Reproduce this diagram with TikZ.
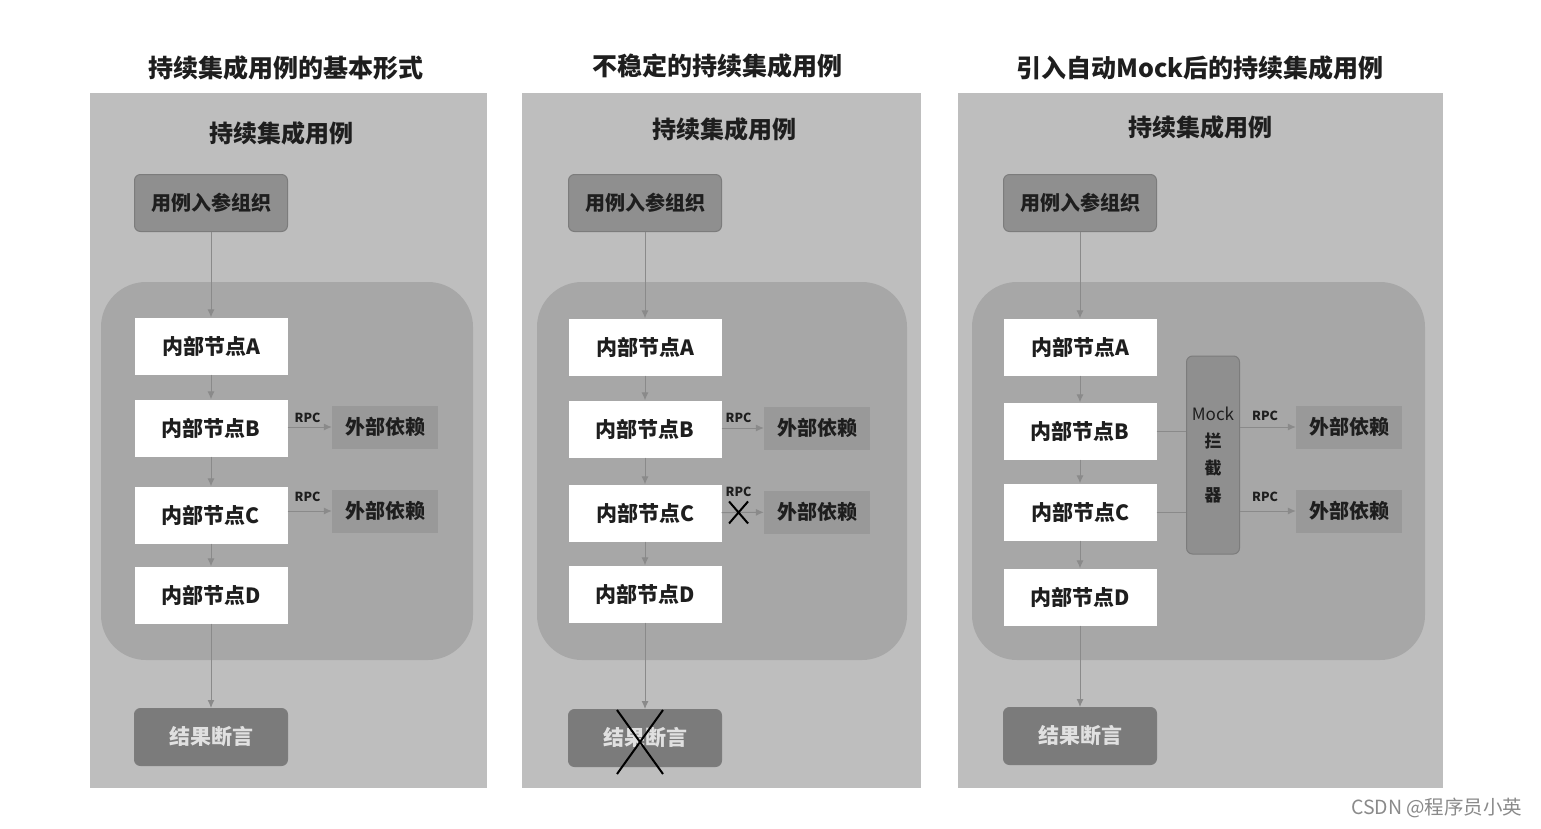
\documentclass[tikz,border=0pt]{standalone}
\usepackage{fontspec}
\setmainfont{Noto Sans CJK SC}
\usetikzlibrary{arrows.meta, positioning, shapes.misc}

\definecolor{panelgray}{HTML}{BEBEBE}
\definecolor{regiongray}{HTML}{A7A7A7}
\definecolor{entrygray}{HTML}{8F8F8F}
\definecolor{entryedge}{HTML}{7C7C7C}
\definecolor{extgray}{HTML}{999999}
\definecolor{resultgray}{HTML}{7B7B7B}
\definecolor{linegray}{HTML}{8A8A8A}
\definecolor{inkgray}{HTML}{1E1E1E}

\tikzset{
  panel/.style={fill=panelgray},
  region/.style={fill=regiongray, rounded corners=45pt},
  heading/.style={text=inkgray, font=\fontsize{25}{30}\selectfont\bfseries},
  entrybox/.style={draw=entryedge, fill=entrygray, rounded corners=6pt, line width=1pt,
    minimum width=153pt, minimum height=57pt, text=inkgray, font=\fontsize{20}{24}\selectfont\bfseries},
  inode/.style={fill=white, minimum width=153pt, minimum height=57pt, text=inkgray,
    font=\fontsize{21}{24}\selectfont\bfseries},
  extbox/.style={fill=extgray, minimum width=106pt, minimum height=43pt, text=inkgray,
    font=\fontsize{20}{24}\selectfont\bfseries},
  resultbox/.style={draw=entryedge, fill=resultgray, rounded corners=6pt, line width=1pt,
    minimum width=153pt, minimum height=57pt, text=white!88!black, font=\fontsize{21}{25}\selectfont\bfseries},
  mockbox/.style={draw=entryedge, fill=entrygray, rounded corners=6pt, line width=1pt,
    minimum width=53pt, minimum height=198pt, text=inkgray, align=center,
    font=\fontsize{17}{27}\selectfont\bfseries},
  rpc/.style={text=inkgray, font=\fontsize{12.5}{14}\selectfont\bfseries},
  flow/.style={draw=linegray, line width=1pt, -{Latex[length=8pt,width=7pt]}},
  link/.style={draw=linegray, line width=1pt},
  crossmark/.style={cross out, draw=black, line width=2pt, inner sep=0pt}
}

\begin{document}
\begin{tikzpicture}[x=1pt, y=-1pt]
    \useasboundingbox[fill=white] (0,0) rectangle (1541,828);

    % Panel 1: basic form
    \fill[panel] (90,93) rectangle (487,788);
    \node[heading] (t1) at (286,68) {持续集成用例的基本形式};
    \node[heading, font=\fontsize{24}{29}\selectfont\bfseries] (h1) at (281,133) {持续集成用例};
    \fill[region] (101,282) rectangle (473,660);
    \node[entrybox] (in1) at (211,203) {用例入参组织};
    \node[inode] (a1) at (211,346) {内部节点A};
    \node[inode] (b1) at (211,428) {内部节点B};
    \node[inode] (c1) at (211,515) {内部节点C};
    \node[inode] (d1) at (211,595) {内部节点D};
    \node[extbox] (e1) at (385,427) {外部依赖};
    \node[extbox] (f1) at (385,511) {外部依赖};
    \node[resultbox] (r1) at (211,737) {结果断言};
    \draw[flow] (in1) -- (a1);
    \draw[flow] (a1) -- (b1);
    \draw[flow] (b1) -- (c1);
    \draw[flow] (c1) -- (d1);
    \draw[flow] (d1) -- (r1);
    \draw[flow] (b1.east |- e1) -- node[rpc, above=1pt, pos=0.45] (p1) {RPC} (e1);
    \draw[flow] (c1.east |- f1) -- node[rpc, above=6pt, pos=0.45] (q1) {RPC} (f1);

    % Panel 2: unstable case
    \fill[panel] (522,93) rectangle (921,788);
    \node[heading] (t2) at (717,66) {不稳定的持续集成用例};
    \node[heading, font=\fontsize{24}{29}\selectfont\bfseries] (h2) at (724,129) {持续集成用例};
    \fill[region] (537,282) rectangle (907,660);
    \node[entrybox] (in2) at (645,203) {用例入参组织};
    \node[inode] (a2) at (645,347) {内部节点A};
    \node[inode] (b2) at (645,429) {内部节点B};
    \node[inode] (c2) at (645,513) {内部节点C};
    \node[inode] (d2) at (645,594) {内部节点D};
    \node[extbox] (e2) at (817,428) {外部依赖};
    \node[extbox] (f2) at (817,512) {外部依赖};
    \node[resultbox] (r2) at (645,738) {结果断言};
    \draw[flow] (in2) -- (a2);
    \draw[flow] (a2) -- (b2);
    \draw[flow] (b2) -- (c2);
    \draw[flow] (c2) -- (d2);
    \draw[flow] (d2) -- (r2);
    \draw[flow] (b2.east |- e2) -- node[rpc, above=2pt, pos=0.4] (p2) {RPC} (e2);
    \draw[flow] (c2) -- node[crossmark, minimum width=17pt, minimum height=20pt, pos=0.4] (x2) {}
        node[rpc, above=12pt, pos=0.4] (q2) {RPC} (f2);
    \node[crossmark, minimum width=44pt, minimum height=62pt] (xr2) at (640,742) {};

    % Panel 3: with automatic Mock
    \fill[panel] (958,93) rectangle (1443,788);
    \node[heading] (t3) at (1200,68) {引入自动Mock后的持续集成用例};
    \node[heading, font=\fontsize{24}{29}\selectfont\bfseries] (h3) at (1200,127) {持续集成用例};
    \fill[region] (972,282) rectangle (1425,660);
    \node[entrybox] (in3) at (1080,203) {用例入参组织};
    \node[inode] (a3) at (1080,347) {内部节点A};
    \node[inode] (b3) at (1080,431) {内部节点B};
    \node[inode] (c3) at (1080,512) {内部节点C};
    \node[inode] (d3) at (1080,597) {内部节点D};
    \node[mockbox] (m3) at (1213,455) {{\mdseries Mock}\\拦\\截\\器};
    \node[extbox] (e3) at (1349,427) {外部依赖};
    \node[extbox] (f3) at (1349,511) {外部依赖};
    \node[resultbox] (r3) at (1080,736) {结果断言};
    \draw[flow] (in3) -- (a3);
    \draw[flow] (a3) -- (b3);
    \draw[flow] (b3) -- (c3);
    \draw[flow] (c3) -- (d3);
    \draw[flow] (d3) -- (r3);
    \draw[link] (b3) -- (b3 -| m3.west);
    \draw[link] (c3) -- (c3 -| m3.west);
    \draw[flow] (m3.east |- e3) -- node[rpc, above=3pt, pos=0.45] (p3) {RPC} (e3);
    \draw[flow] (m3.east |- f3) -- node[rpc, above=6pt, pos=0.45] (q3) {RPC} (f3);

    % Watermark
    \node[anchor=east, text=linegray, font=\fontsize{19.5}{22}\selectfont] (wm) at (1526,808) {CSDN @程序员小英};
\end{tikzpicture}
\end{document}
